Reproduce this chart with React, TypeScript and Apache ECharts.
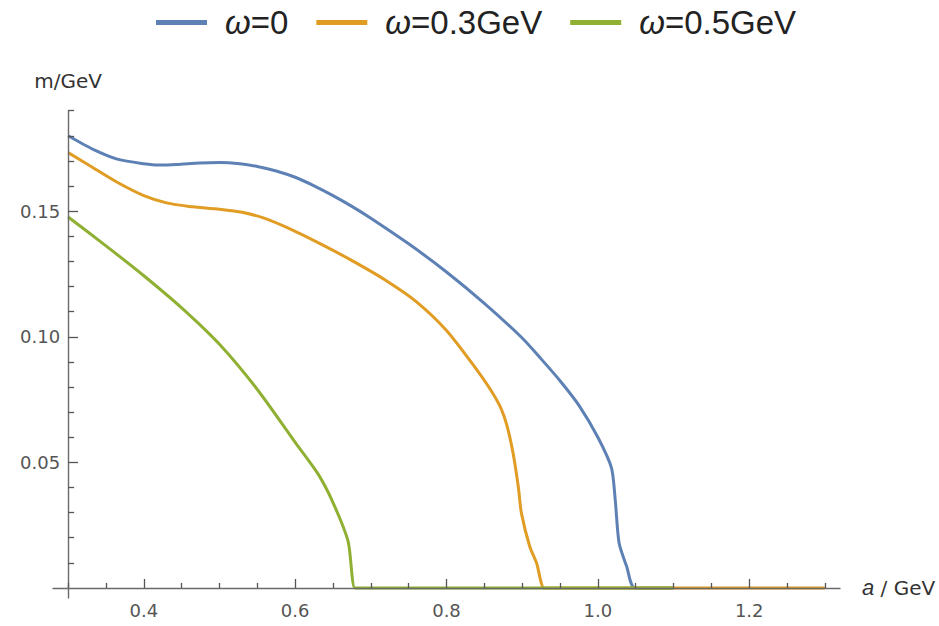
import React, { useEffect, useRef } from "react";
import * as echarts from "echarts";

// ---- data ----
const blueA = [0.3, 0.333, 0.366, 0.4, 0.42, 0.443, 0.474, 0.5, 0.527, 0.55, 0.575, 0.6, 0.625, 0.65, 0.675, 0.7, 0.75, 0.8, 0.85, 0.9, 0.925, 0.95, 0.975, 1.0, 1.018, 1.023, 1.028, 1.038, 1.049, 1.1];
const blueM = [0.18, 0.1746, 0.1706, 0.1689, 0.1684, 0.1686, 0.1692, 0.1694, 0.1689, 0.1678, 0.166, 0.1635, 0.1601, 0.1562, 0.1519, 0.1472, 0.137, 0.1258, 0.1133, 0.0995, 0.0912, 0.0825, 0.0727, 0.06, 0.0478, 0.035, 0.018, 0.0086, 0.0, 0.0];

const orangeA = [0.3, 0.333, 0.366, 0.4, 0.43, 0.46, 0.5, 0.53, 0.56, 0.6, 0.64, 0.68, 0.72, 0.76, 0.8, 0.836, 0.858, 0.872, 0.88, 0.888, 0.895, 0.899, 0.91, 0.919, 0.929, 0.94, 1.3];
const orangeM = [0.1733, 0.1673, 0.1613, 0.1562, 0.1533, 0.1519, 0.1508, 0.1496, 0.1471, 0.142, 0.136, 0.1295, 0.1224, 0.114, 0.1025, 0.0885, 0.079, 0.0715, 0.0645, 0.0536, 0.04, 0.0298, 0.0165, 0.0099, 0.0, 0.0, 0.0];

const greenA = [0.3, 0.35, 0.4, 0.45, 0.5, 0.55, 0.6, 0.63, 0.65, 0.67, 0.679, 0.69, 1.1];
const greenM = [0.1477, 0.1362, 0.1243, 0.1115, 0.097, 0.079, 0.058, 0.0455, 0.034, 0.0185, 0.0, 0.0, 0.0];

const seriesNames = ["ω=0", "ω=0.3GeV", "ω=0.5GeV"];
const seriesColors = ["#5E81B5", "#E19C24", "#8FB032"];

const xMajorTicks = [0.4, 0.6, 0.8, 1.0, 1.2];
const xMinorTicks = [0.3, 0.35, 0.45, 0.5, 0.55, 0.65, 0.7, 0.75, 0.85, 0.9, 0.95, 1.05, 1.1, 1.15, 1.25, 1.3];
const yMajorTicks = [0.05, 0.1, 0.15];
const yMinorTicks = [0.01, 0.02, 0.03, 0.04, 0.06, 0.07, 0.08, 0.09, 0.11, 0.12, 0.13, 0.14, 0.16, 0.17, 0.18, 0.19];

const zip = (xs: number[], ys: number[]) => xs.map((x, i) => [x, ys[i]]);

const AXIS_COLOR = "#6a6a6a";
const TICK_COLOR = "#555";
const LABEL_FONT = "DejaVu Sans";

export default function App() {
  const ref = useRef<HTMLDivElement>(null);

  useEffect(() => {
    if (!ref.current) return;
    const chart = echarts.init(ref.current, null, { renderer: "svg" });

    const xMin = 0.28;
    const xMax = 1.32;
    const gridLeft = 53;
    const gridRight = 99;
    const gridWidth = 939 - gridLeft - gridRight;
    const yAxisShift = -((0.3 - xMin) / (xMax - xMin)) * gridWidth;

    const commonX = {
      type: "value",
      min: xMin,
      max: xMax,
      position: "bottom",
      splitLine: { show: false },
    };
    const commonY = {
      type: "value",
      min: -0.004,
      max: 0.19,
      position: "left",
      offset: yAxisShift,
      splitLine: { show: false },
    };

    const data = [zip(blueA, blueM), zip(orangeA, orangeM), zip(greenA, greenM)];

    chart.setOption({
      animation: false,
      backgroundColor: "#ffffff",
      grid: {
        left: gridLeft,
        right: gridRight,
        top: 110.7,
        bottom: 28,
        containLabel: false,
        outerBoundsMode: "none",
      },
      legend: {
        top: 1,
        left: 151,
        icon: "rect",
        itemWidth: 51,
        itemHeight: 5,
        itemGap: 28,
        data: seriesNames,
        formatter: (name: string) => name.replace("ω", "{i|ω}"),
        textStyle: {
          fontFamily: "Liberation Sans",
          fontSize: 33,
          color: "#222",
          padding: [0, 0, 0, 13],
          rich: {
            i: { fontFamily: "Liberation Sans", fontStyle: "italic", fontSize: 33, color: "#222" },
          },
        },
      },
      xAxis: [
        {
          ...commonX,
          z: 5,
          axisLine: { show: true, onZero: true, lineStyle: { color: AXIS_COLOR, width: 1.4 } },
          axisTick: { show: true, inside: true, length: 9, customValues: xMajorTicks, lineStyle: { color: TICK_COLOR, width: 1.3 } },
          axisLabel: {
            show: true,
            customValues: xMajorTicks,
            margin: 3,
            fontFamily: LABEL_FONT,
            fontSize: 18,
            color: "#555",
            formatter: (v: number) => v.toFixed(1),
          },
          name: "{i|a} / GeV",
          nameLocation: "end",
          nameGap: 22,
          nameTextStyle: {
            fontFamily: LABEL_FONT,
            fontSize: 20,
            color: "#333",
            rich: { i: { fontFamily: "Liberation Sans", fontStyle: "italic", fontSize: 22, color: "#333" } },
          },
        },
        {
          ...commonX,
          z: 5,
          axisLine: { show: true, onZero: true, lineStyle: { color: AXIS_COLOR, width: 0, opacity: 0 } },
          axisTick: { show: true, inside: true, length: 5, customValues: xMinorTicks, lineStyle: { color: TICK_COLOR, width: 1.3 } },
          axisLabel: { show: false },
        },
      ],
      yAxis: [
        {
          ...commonY,
          z: 5,
          axisLine: { show: true, onZero: false, lineStyle: { color: AXIS_COLOR, width: 1.4 } },
          axisTick: { show: true, inside: true, length: 10, customValues: yMajorTicks, lineStyle: { color: TICK_COLOR, width: 1.3 } },
          axisLabel: {
            show: true,
            customValues: yMajorTicks,
            margin: 8,
            fontFamily: LABEL_FONT,
            fontSize: 18,
            color: "#555",
            formatter: (v: number) => v.toFixed(2),
          },
          name: "m/GeV",
          nameLocation: "end",
          nameGap: 20,
          nameTextStyle: { fontFamily: LABEL_FONT, fontSize: 20, color: "#333" },
        },
        {
          ...commonY,
          z: 5,
          axisLine: { show: true, onZero: false, lineStyle: { color: AXIS_COLOR, width: 0, opacity: 0 } },
          axisTick: { show: true, inside: true, length: 6, customValues: yMinorTicks, lineStyle: { color: TICK_COLOR, width: 1.3 } },
          axisLabel: { show: false },
        },
      ],
      series: seriesNames.map((name, i) => ({
        name,
        type: "line",
        xAxisIndex: 0,
        yAxisIndex: 0,
        data: data[i],
        showSymbol: false,
        symbol: "none",
        smooth: 0.25,
        color: seriesColors[i],
        itemStyle: { color: seriesColors[i] },
        lineStyle: { color: seriesColors[i], width: 3 },
        z: 2 + i * 0.1,
      })),
    });

    return () => {
      chart.dispose();
    };
  }, []);

  return (
    <div
      ref={ref}
      style={{ position: "absolute", left: 0, top: 0, width: 939, height: 626, background: "#fff" }}
    />
  );
}
